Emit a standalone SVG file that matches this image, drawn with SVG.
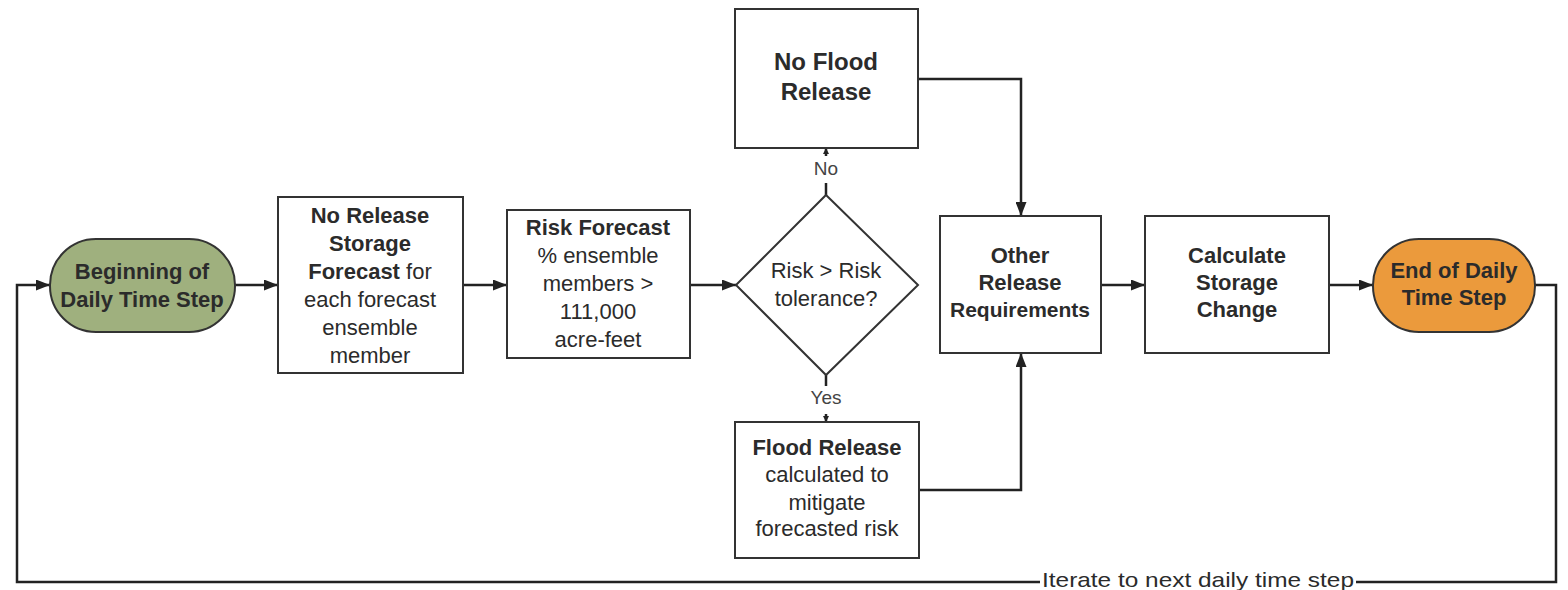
<svg xmlns="http://www.w3.org/2000/svg" width="1568" height="590" viewBox="0 0 1568 590">
<style>
text{font-family:"Liberation Sans",Arial,sans-serif;font-size:22px;fill:#2b2b2b;text-anchor:middle}
.b{font-weight:bold}
.box{fill:#fff;stroke:#333;stroke-width:2}
.ln{fill:none;stroke:#222;stroke-width:2.5}
.lbl{font-size:19px;fill:#444}
</style>
<defs>
<marker id="ah" viewBox="0 0 14 11" refX="14" refY="5.5" markerWidth="14" markerHeight="11" markerUnits="userSpaceOnUse" orient="auto">
<path d="M0,0 L14,5.5 L0,11 Z" fill="#222"/>
</marker>
<marker id="sm" viewBox="0 0 6 6" refX="6" refY="3" markerWidth="6" markerHeight="6" markerUnits="userSpaceOnUse" orient="auto">
<path d="M0,0 L6,3 L0,6 Z" fill="#222"/>
</marker>
</defs>
<rect width="1568" height="590" fill="#fff"/>

<g id="connectors">
<path class="ln" d="M235,285 H278" marker-end="url(#ah)"/>
<path class="ln" d="M463,285 H507" marker-end="url(#ah)"/>
<path class="ln" d="M690,285 H736" marker-end="url(#ah)"/>
<path class="ln" d="M826,195 V183"/>
<path class="ln" d="M826,156 V148" marker-end="url(#sm)"/>
<path class="ln" d="M826,375 V386"/>
<path class="ln" d="M826,414 V422" marker-end="url(#sm)"/>
<path class="ln" d="M918,79 H1021 V216" marker-end="url(#ah)"/>
<path class="ln" d="M919,490 H1021 V353" marker-end="url(#ah)"/>
<path class="ln" d="M1101,285 H1145" marker-end="url(#ah)"/>
<path class="ln" d="M1329,285 H1373" marker-end="url(#ah)"/>
<path class="ln" d="M1535,285 H1556 V582 H1356 M1040,582 H17 V285 H50" marker-end="url(#ah)"/>
<text class="lbl" x="826" y="175">No</text>
<text class="lbl" x="826" y="404">Yes</text>
<text x="1198" y="587" style="font-size:21px" textLength="312" lengthAdjust="spacingAndGlyphs">Iterate to next daily time step</text>
</g>

<g id="begin">
<rect x="50" y="239" width="185" height="93" rx="46" ry="46" fill="#9fb07e" stroke="#333" stroke-width="2"/>
<text class="b" x="142" y="279" fill="#1f2618">Beginning of</text>
<text class="b" x="142" y="307">Daily Time Step</text>
</g>

<g id="noReleaseStorage">
<rect class="box" x="278" y="197" width="185" height="176"/>
<text class="b" x="370" y="223">No Release</text>
<text class="b" x="370" y="251">Storage</text>
<text x="370" y="279"><tspan class="b">Forecast</tspan> for</text>
<text x="370" y="307">each forecast</text>
<text x="370" y="335">ensemble</text>
<text x="370" y="363">member</text>
</g>

<g id="riskForecast">
<rect class="box" x="507" y="210" width="183" height="148"/>
<text class="b" x="598" y="235">Risk Forecast</text>
<text x="598" y="263">% ensemble</text>
<text x="598" y="291">members &gt;</text>
<text x="598" y="319">111,000</text>
<text x="598" y="347">acre-feet</text>
</g>

<g id="decision">
<polygon points="826,195 918,285 826,375 736,285" fill="#fff" stroke="#333" stroke-width="2"/>
<text x="826" y="278" fill="#444">Risk &gt; Risk</text>
<text x="826" y="306" fill="#444">tolerance?</text>
</g>

<g id="noFlood">
<rect class="box" x="735" y="9" width="183" height="139"/>
<text class="b" x="826" y="70" style="font-size:24px">No Flood</text>
<text class="b" x="826" y="100" style="font-size:24px">Release</text>
</g>

<g id="flood">
<rect class="box" x="735" y="422" width="184" height="136"/>
<text class="b" x="827" y="455">Flood Release</text>
<text x="827" y="482">calculated to</text>
<text x="827" y="510">mitigate</text>
<text x="827" y="536">forecasted risk</text>
</g>

<g id="other">
<rect class="box" x="940" y="216" width="161" height="137"/>
<text class="b" x="1020" y="263">Other</text>
<text class="b" x="1020" y="290">Release</text>
<text class="b" x="1020" y="317" style="font-size:21px">Requirements</text>
</g>

<g id="calc">
<rect class="box" x="1145" y="216" width="184" height="137"/>
<text class="b" x="1237" y="263">Calculate</text>
<text class="b" x="1237" y="290">Storage</text>
<text class="b" x="1237" y="317">Change</text>
</g>

<g id="end">
<rect x="1373" y="239" width="162" height="93" rx="46" ry="46" fill="#eb9a3c" stroke="#333" stroke-width="2"/>
<text class="b" x="1454" y="278">End of Daily</text>
<text class="b" x="1454" y="305">Time Step</text>
</g>
</svg>
